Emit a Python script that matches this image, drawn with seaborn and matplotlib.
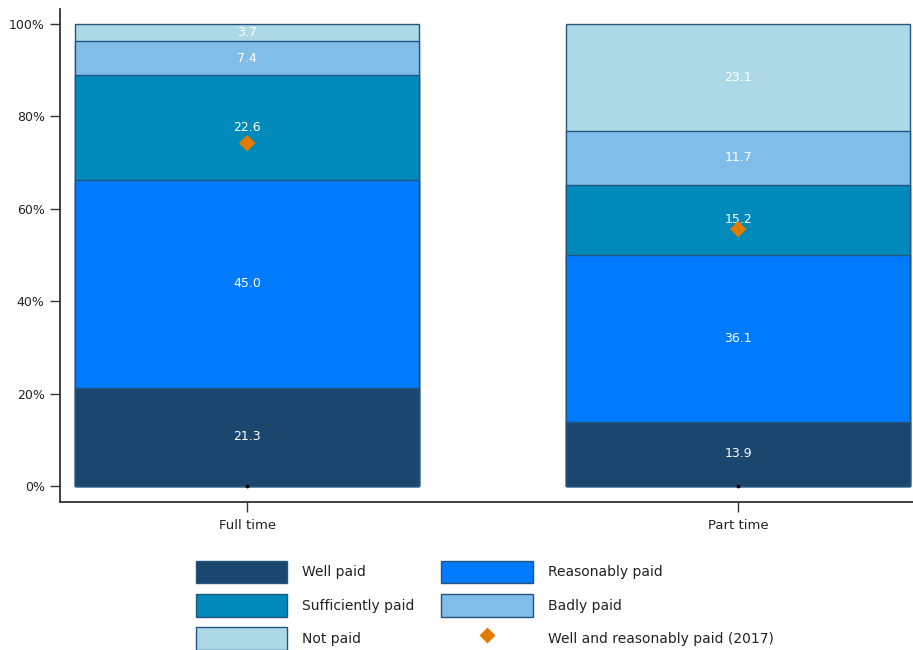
import pandas as pd
import matplotlib
matplotlib.use("Agg")
import matplotlib.pyplot as plt
import matplotlib.patches as mpatches
from matplotlib.lines import Line2D
from matplotlib.ticker import PercentFormatter
import seaborn as sns

# data
groups = ["Full time", "Part time"]
categories = ["Well paid", "Reasonably paid", "Sufficiently paid", "Badly paid", "Not paid"]
full_time = [21.3, 45.0, 22.6, 7.4, 3.7]
part_time = [13.9, 36.1, 15.2, 11.7, 23.1]
paid_2017 = [74.2, 55.6]
marker_label = "Well and reasonably paid (2017)"

colors = ["#1b476e", "#007bff", "#008abb", "#80bde8", "#add8e6"]
edge = "#24557f"

sns.set_theme(style="white")
plt.rcParams["font.family"] = ["DejaVu Sans"]

rows = []
for g, vals in zip(groups, [full_time, part_time]):
    cum = 0
    for c, v in zip(categories, vals):
        rows.append({"type": g, "cat": c, "value": v, "bottom": cum, "top": cum + v})
        cum += v
df = pd.DataFrame(rows)

fig = plt.figure(figsize=(9.13, 6.5), dpi=100)
ax = fig.add_axes([0.0657, 0.2277, 0.9343, 0.7585])

# stacked bars drawn as cumulative bars, top layer first
for c, col in reversed(list(zip(categories, colors))):
    sub = df[df["cat"] == c]
    sns.barplot(data=sub, x="type", y="top", order=groups, color=col,
                saturation=1, width=0.7, edgecolor=edge, linewidth=1, ax=ax)

for _, r in df.iterrows():
    xi = groups.index(r["type"])
    ax.text(xi, (r["bottom"] + r["top"]) / 2, f"{r['value']:.1f}", color="white",
            ha="center", va="center", fontsize=9)

mk = pd.DataFrame({"type": groups, "v": paid_2017})
sns.scatterplot(data=mk, x="type", y="v", marker="D", s=72, color="#e07b00",
                edgecolor="none", ax=ax, zorder=5, legend=False)
ax.scatter([0, 1], [0, 0], s=3, color="black", zorder=5)

ax.set_xlim(-0.381, 1.356)
ax.set_ylim(-3.46, 103.25)
ax.set_yticks([0, 20, 40, 60, 80, 100])
ax.yaxis.set_major_formatter(PercentFormatter(decimals=0))
ax.set_xlabel("")
ax.set_ylabel("")
sns.despine(ax=ax)
for s in ["left", "bottom"]:
    ax.spines[s].set_color("#333333")
    ax.spines[s].set_linewidth(1.3)
ax.tick_params(axis="y", left=True, length=7, width=1, color="#333333",
               labelsize=9, pad=4, labelcolor="#222222")
ax.tick_params(axis="x", bottom=True, length=7, width=1, color="#333333",
               labelsize=9.5, pad=5, labelcolor="#222222")

handles = [mpatches.Patch(facecolor=col, edgecolor=edge, linewidth=1) for col in colors]
handles.append(Line2D([], [], marker="D", linestyle="none", color="#e07b00",
                      markersize=8.5, markeredgecolor="none"))
labels = categories + [marker_label]
order = [0, 2, 4, 1, 3, 5]
fig.legend([handles[i] for i in order], [labels[i] for i in order],
           loc="center", bbox_to_anchor=(0.531, 0.069), ncol=2, frameon=False,
           fontsize=10, handlelength=6.6, handleheight=2.15, handletextpad=1.1,
           labelspacing=0.75, columnspacing=1.9, labelcolor="#222222")

fig.savefig("out.png", dpi=100)
